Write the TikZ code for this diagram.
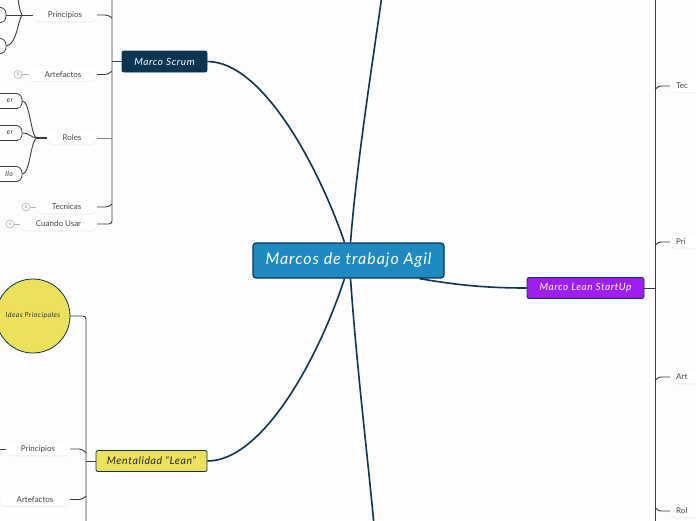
\documentclass[tikz,border=0pt]{standalone}
\usepackage{fontspec}
\setmainfont{Lato}
\newcommand\handfont{\addfontfeature{LetterSpace=6}\itshape}
\usetikzlibrary{shadows}
\definecolor{navy}{HTML}{0B3550}
\definecolor{agil}{HTML}{1F89C1}
\definecolor{leanY}{HTML}{EDE05A}
\definecolor{purp}{HTML}{9E1DF3}
\definecolor{subgray}{HTML}{3C3C3C}
\definecolor{pilltext}{HTML}{454545}
\definecolor{bg}{HTML}{FDFDFD}
\begin{document}
\begin{tikzpicture}[x=1pt,y=-1pt,
  mainnode/.style={draw=navy, line width=1.2pt, fill=agil, rounded corners=3pt, text=white,
    font=\fontsize{16}{16}\selectfont\handfont, minimum width=191pt, minimum height=35pt, inner sep=0pt},
  topic/.style={draw=navy, line width=0.8pt, rounded corners=2pt,
    font=\fontsize{10}{10}\selectfont\handfont, inner sep=0pt, minimum height=21pt},
  pill/.style={fill=white, rounded corners=6pt, minimum height=12.5pt, inner sep=0pt,
    font=\fontsize{8}{8}\selectfont, text=pilltext,
    drop shadow={shadow xshift=0pt, shadow yshift=-1pt, opacity=0.12}},
  leaf/.style={draw=subgray, line width=0.8pt, fill=white, rounded corners=6pt, minimum height=15pt,
    inner xsep=6pt, inner ysep=0pt, font=\fontsize{7}{7}\selectfont\handfont, text=black!80},
  cnt/.style={circle, draw=gray!60, line width=0.6pt, minimum size=8pt, inner sep=0pt,
    font=\fontsize{4}{4}\selectfont, text=gray},
  link/.style={draw=navy, line width=1.6pt},
  sub/.style={draw=subgray, line width=0.9pt},
  subn/.style={draw=navy!80!gray, line width=0.9pt}]
\useasboundingbox (0,0) rectangle (696,520);
\fill[bg] (0,0) rectangle (696,520);

% free ends
\coordinate (topend) at (382,-5);
\coordinate (botend) at (374,525);
\coordinate (sbtop) at (112,-5);
\coordinate (sbj) at (112,61.5);
\coordinate (pj) at (22,15);
\coordinate (ptop) at (17,-5);
\coordinate (rj) at (37,138);
\coordinate (rbtop) at (655,-5);
\coordinate (rbj) at (655,86);
\coordinate (rbbot) at (655,525);
\coordinate (mbbot) at (86,525);
\coordinate (mpl) at (-5,449);

% main nodes
\node[mainnode] (c) at (348.5,260.5) {Marcos de trabajo Agil};
\node[topic, fill=navy, text=white, minimum width=85pt] (scrum) at (164.5,61.5) {Marco Scrum};
\node[topic, fill=leanY, text=black!85, minimum width=111pt, font=\fontsize{10.5}{10}\selectfont\handfont] (ment) at (151.5,461) {Mentalidad “Lean”};
\node[topic, fill=purp, text=white, minimum width=117pt] (lsu) at (585.5,288) {Marco Lean StartUp};
\node[circle, draw=navy, line width=0.8pt, fill=leanY, minimum size=74pt, inner sep=0pt,
  font=\fontsize{7}{7}\selectfont\handfont, text=black!80] (ideas) at (33,316) {Ideas Principales};

% main links
\draw[link] ([xshift=-4pt]c.north) .. controls (318,165) and (262,61.5) .. (scrum.east);
\draw[link] ([xshift=2pt]c.north) .. controls (357,160) and (373,60) .. (topend);
\draw[link] ([xshift=-4pt]c.south) .. controls (318,360) and (262,461) .. (ment.east);
\draw[link] ([xshift=2pt]c.south) .. controls (357,370) and (368,460) .. (botend);
\draw[link] ([xshift=71pt]c.south) .. controls (462,286) and (492,288) .. (lsu.west);

% Scrum branch
\node[pill, minimum width=64pt] (princ) at (65,15) {Principios};
\node[pill, minimum width=68pt] (art) at (63,74.5) {Artefactos};
\node[pill, minimum width=50pt] (roles) at (72,138) {Roles};
\node[pill, minimum width=61pt] (tec) at (66.5,207) {Tecnicas};
\node[pill, minimum width=77pt] (cuando) at (58.5,224) {Cuando Usar};
\node[cnt] (n1) at (18,74.5) {5};
\node[cnt] (n2) at (26,207) {8};
\node[cnt] (n3) at (10,224) {4};

\draw[sub] (scrum.west) -- (sbj);
\draw[sub, rounded corners=3pt] (sbtop) -- (112,224) -- (cuando.east);
\draw[sub, rounded corners=3pt] (princ.east) -- (108,15) -- (112,18);
\draw[sub, rounded corners=3pt] (art.east) -- (108,74.5) -- (112,71);
\draw[sub, draw=gray] (roles.east) -- (112,138);
\draw[sub, rounded corners=3pt] (tec.east) -- (108,207) -- (112,204);
\draw[draw=gray!60, line width=0.6pt] (n1) -- (art.west);
\draw[draw=gray!60, line width=0.6pt] (n2) -- (tec.west);
\draw[draw=gray!60, line width=0.6pt] (n3) -- (cuando.west);

% Principios children
\node[leaf, minimum width=40pt] (p1) at (-14,15) {};
\node[leaf, minimum width=40pt] (p2) at (-14,46) {};
\draw[sub] (princ.west) -- (pj);
\draw[sub] (pj) -- (p1.east);
\draw[sub] (pj) .. controls (19,10) and (19,2) .. (ptop);
\draw[sub] (pj) .. controls (18,20) and (17,44) .. (p2.east);

% Roles children (only their ends are inside the picture)
\node[leaf, minimum width=40pt, align=right, text width=22pt] (r1) at (2,101) {er};
\node[leaf, minimum width=40pt, align=right, text width=22pt] (r2) at (2,133) {er};
\node[leaf, minimum width=40pt, align=right, text width=22pt] (r3) at (2,174) {llo};
\draw[sub, line width=1.4pt] (roles.west) -- (rj);
\draw[sub] (rj) .. controls (31,138) and (30,101) .. (r1.east);
\draw[sub] (rj) .. controls (31,138) and (30,133) .. (r2.east);
\draw[sub] (rj) .. controls (31,138) and (30,174) .. (r3.east);

% Lean StartUp branch (only their starts are inside the picture)
\node[pill, anchor=west, minimum width=60pt, text width=48pt, align=left] (lt) at (670,86) {Tec};
\node[pill, anchor=west, minimum width=60pt, text width=48pt, align=left] (lp) at (670,242) {Pri};
\node[pill, anchor=west, minimum width=60pt, text width=48pt, align=left] (la) at (670,377) {Art};
\node[pill, anchor=west, minimum width=60pt, text width=48pt, align=left] (lr) at (670,511) {Rol};
\draw[subn] (rbtop) -- (rbj);
\draw[sub] (rbj) -- (rbbot);
\draw[sub] (lsu.east) -- (655,288);
\draw[sub, rounded corners=3pt] (655,90) -- (658,86) -- (lt.west);
\draw[sub, rounded corners=3pt] (655,246) -- (658,242) -- (lp.west);
\draw[sub, rounded corners=3pt] (655,381) -- (658,377) -- (la.west);
\draw[sub, rounded corners=3pt] (655,507) -- (658,511) -- (lr.west);

% Mentalidad branch
\node[pill, minimum width=64pt] (mp) at (38,449) {Principios};
\node[pill, minimum width=70pt] (ma) at (35,499.5) {Artefactos};
\draw[subn, rounded corners=3pt] (ideas.east) -- (86,316) -- (mbbot);
\draw[sub] (ment.west) -- (86,461);
\draw[sub, rounded corners=3pt] (mp.east) -- (82,449) -- (86,453);
\draw[sub, rounded corners=3pt] (ma.east) -- (82,499.5) -- (86,496);
\draw[sub] (mp.west) -- (mpl);
\end{tikzpicture}
\end{document}
